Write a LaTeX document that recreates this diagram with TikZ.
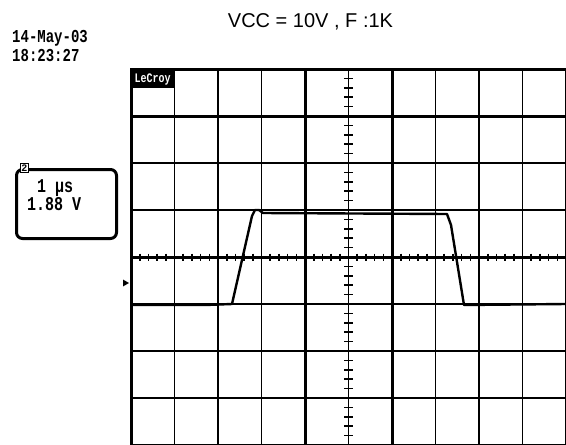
\documentclass[tikz,border=0pt]{standalone}
\usepackage{fontspec}
\usepackage{graphicx}
\usetikzlibrary{shapes.geometric}
\setmainfont{Liberation Sans}
\newfontfamily\monofont{Liberation Mono}
\newcommand{\tallpix}[1]{\scalebox{1}[1.3]{#1}}
\begin{document}
\begin{tikzpicture}[x=1pt,y=-1pt,
  gridline/.style={line width=1.6pt,black},
  gridthick/.style={line width=3pt,black},
  tickline/.style={line width=1.6pt,black},
  signal/.style={line width=2.4pt,black,line join=round},
  pixtext/.style={font=\monofont\bfseries\fontsize{14}{14}\selectfont,inner sep=0pt},
  boxtext/.style={font=\monofont\bfseries\fontsize{15}{15}\selectfont,inner sep=0pt},
]
\useasboundingbox (0,0) rectangle (566,445);
% grid
\foreach \i in {0,...,10}{
  \draw[gridline] ({131+43.5*\i},69) -- ({131+43.5*\i},446);
}
\foreach \j in {0,...,8}{
  \draw[gridline] (131,{69+47*\j}) -- (567,{69+47*\j});
}
\draw[gridthick] (305,69) -- (305,446);
\draw[gridthick] (392,69) -- (392,446);
\draw[gridthick] (131,116) -- (567,116);
\draw[gridthick] (131,257) -- (567,257);
\draw[gridthick] (131,446) -- (131,69) -- (567,69);
% ticks
\foreach \k in {0,...,50}{
  \draw[tickline] ({131+8.7*\k},253.5) -- ({131+8.7*\k},260.5);
}
\foreach \k in {0,...,40}{
  \draw[tickline] (344,{69+9.4*\k}) -- (353,{69+9.4*\k});
}
% LeCroy label
\node[fill=black,text=white,minimum width=43pt,minimum height=16pt,inner sep=0pt,anchor=north west,
  font=\monofont\bfseries\fontsize{10}{10}\selectfont] (lecroy) at (131,71) {\tallpix{LeCroy}};
\draw[line width=1.2pt] (lecroy.south west) -- (lecroy.south east);
% signal
\draw[signal] (131,305) -- (205,305) -- (232,304) -- (242,260) -- (252,216) -- (255,210) -- (259,210)
  -- (263,213) -- (447,214) -- (451,225) -- (464,305) -- (566,304);
% marker
\node[fill=black,regular polygon,regular polygon sides=3,shape border rotate=-90,inner sep=0pt,
  minimum size=8pt] (marker) at (125,283) {};
% texts
\node[font=\fontsize{20}{20}\selectfont,inner sep=0pt] (title) at (310.5,22) {VCC = 10V , F :1K};
\node[pixtext,anchor=west] (date) at (12,38.5) {\tallpix{14-May-03}};
\node[pixtext,anchor=west] (time) at (12,55.5) {\tallpix{18:23:27}};
% channel box
\node[draw,line width=3pt,rounded corners=6pt,minimum width=100pt,minimum height=69pt,inner sep=0pt]
  (chbox) at (66.5,204) {};
\node[draw,fill=white,line width=1.5pt,inner sep=1pt,font=\monofont\bfseries\fontsize{10}{10}\selectfont]
  (chnum) at (24.5,168) {2};
\node[boxtext,anchor=west] (tdiv) at (37,188) {\tallpix{1 μs}};
\node[boxtext,anchor=west] (vlevel) at (27,204) {\tallpix{1.88 V}};
\end{tikzpicture}
\end{document}
